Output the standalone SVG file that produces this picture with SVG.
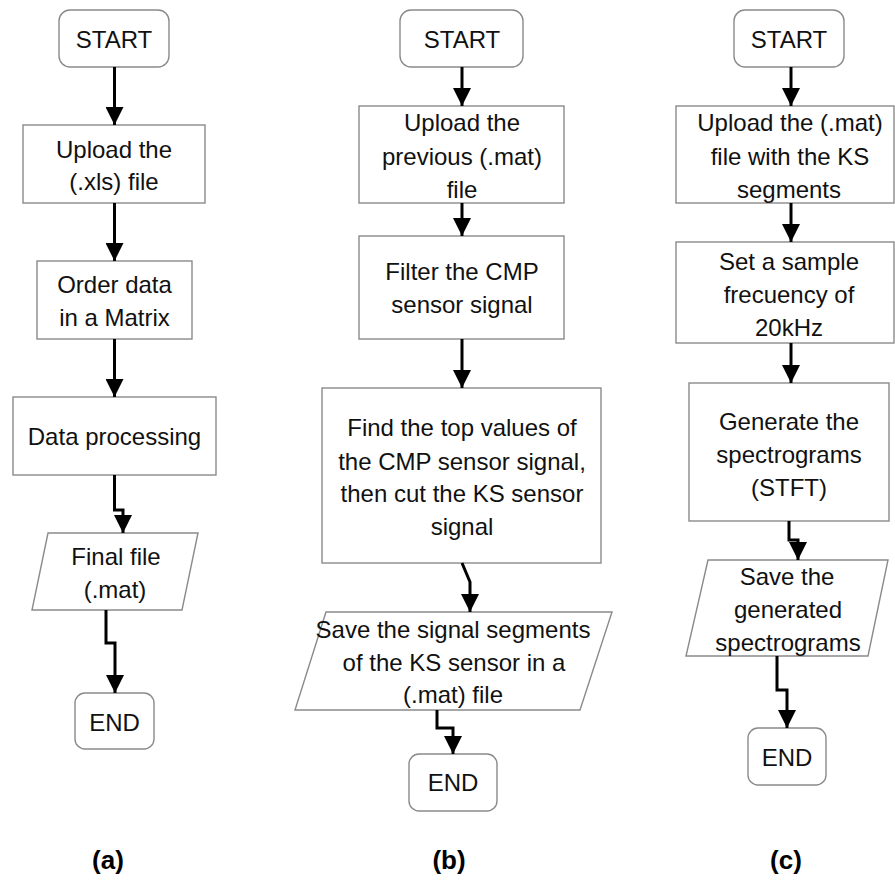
<svg xmlns="http://www.w3.org/2000/svg" width="895" height="881" viewBox="0 0 895 881">
<style>
.box{fill:#fff;stroke:#8a8a8a;stroke-width:1.4}
.t{font-family:"Liberation Sans",Arial,sans-serif;font-size:24px;fill:#111;text-anchor:middle}
.lab{font-family:"Liberation Sans",Arial,sans-serif;font-size:26px;font-weight:bold;fill:#000;text-anchor:middle}
.c{fill:none;stroke:#000;stroke-width:3;marker-end:url(#ah)}
</style>
<defs>
<marker id="ah" markerUnits="userSpaceOnUse" markerWidth="18" markerHeight="18" refX="18" refY="9" orient="auto">
<path d="M0,0 L18,9 L0,18 z" fill="#000"/>
</marker>
</defs>
<rect width="895" height="881" fill="#fff"/>

<g id="a-start"><rect class="box" x="59" y="10" width="110" height="57" rx="11"/><text class="t" x="114" y="48">START</text></g>
<g id="a-upload"><rect class="box" x="23" y="125" width="182" height="78"/><text class="t" x="114" y="158">Upload the</text><text class="t" x="114" y="190">(.xls) file</text></g>
<g id="a-order"><rect class="box" x="37" y="261" width="155" height="78"/><text class="t" x="114.5" y="293">Order data</text><text class="t" x="114.5" y="326">in a Matrix</text></g>
<g id="a-proc"><rect class="box" x="13" y="397" width="203" height="78"/><text class="t" x="114.5" y="445">Data processing</text></g>
<g id="a-final"><polygon class="box" points="48,533 198,533 182,610 32,610"/><text class="t" x="116" y="565">Final file</text><text class="t" x="115" y="598">(.mat)</text></g>
<g id="a-end"><rect class="box" x="75" y="693" width="79" height="56" rx="10"/><text class="t" x="114.5" y="731">END</text></g>

<g id="b-start"><rect class="box" x="400" y="10" width="123" height="57" rx="11"/><text class="t" x="462" y="48">START</text></g>
<g id="b-upload"><rect class="box" x="359" y="106" width="205" height="97"/><text class="t" x="462" y="131">Upload the</text><text class="t" x="462" y="165">previous (.mat)</text><text class="t" x="462" y="198">file</text></g>
<g id="b-filter"><rect class="box" x="359" y="236" width="205" height="103"/><text class="t" x="462" y="280">Filter the CMP</text><text class="t" x="462" y="313">sensor signal</text></g>
<g id="b-find"><rect class="box" x="322" y="388" width="279" height="175"/><text class="t" x="462" y="436">Find the top values of</text><text class="t" x="462" y="470">the CMP sensor signal,</text><text class="t" x="462" y="502">then cut the KS sensor</text><text class="t" x="462" y="535">signal</text></g>
<g id="b-save"><polygon class="box" points="326,612 612,612 580,710 295,710"/><text class="t" x="453" y="638">Save the signal segments</text><text class="t" x="454" y="671">of the KS sensor in a</text><text class="t" x="453" y="703">(.mat) file</text></g>
<g id="b-end"><rect class="box" x="409" y="754" width="88" height="57" rx="10"/><text class="t" x="453" y="791">END</text></g>

<g id="c-start"><rect class="box" x="734" y="10" width="110" height="57" rx="11"/><text class="t" x="789" y="48">START</text></g>
<g id="c-upload"><rect class="box" x="676" y="106" width="218" height="97"/><text class="t" x="790" y="131">Upload the (.mat)</text><text class="t" x="790" y="165">file with the KS</text><text class="t" x="789" y="198">segments</text></g>
<g id="c-set"><rect class="box" x="676" y="242" width="218" height="101"/><text class="t" x="789" y="270">Set a sample</text><text class="t" x="789" y="303">frecuency of</text><text class="t" x="789" y="336">20kHz</text></g>
<g id="c-gen"><rect class="box" x="689" y="383" width="200" height="138"/><text class="t" x="789" y="430">Generate the</text><text class="t" x="789" y="463">spectrograms</text><text class="t" x="789" y="496">(STFT)</text></g>
<g id="c-save"><polygon class="box" points="708,560 888,560 868,656 686,656"/><text class="t" x="787" y="585">Save the</text><text class="t" x="788" y="618">generated</text><text class="t" x="788" y="651">spectrograms</text></g>
<g id="c-end"><rect class="box" x="748" y="728" width="78" height="57" rx="10"/><text class="t" x="787" y="766">END</text></g>

<g id="connectors">
<path class="c" d="M114.5,67 V125"/>
<path class="c" d="M114.5,203 V261"/>
<path class="c" d="M114.5,339 V397"/>
<path class="c" d="M114.5,475 V510 H123 V533"/>
<path class="c" d="M106,610 V643 H115 V693"/>
<path class="c" d="M462,67 V106"/>
<path class="c" d="M462,203 V236"/>
<path class="c" d="M462,339 V388"/>
<path class="c" d="M462,563 L470,582 V612"/>
<path class="c" d="M437,710 V728 H453 V754"/>
<path class="c" d="M791,67 V106"/>
<path class="c" d="M791,203 V242"/>
<path class="c" d="M791,343 V383"/>
<path class="c" d="M789,521 V540 H798 V560"/>
<path class="c" d="M777,656 V690 H787 V728"/>
</g>

<text class="lab" x="108" y="869">(a)</text>
<text class="lab" x="449" y="869">(b)</text>
<text class="lab" x="786" y="869">(c)</text>
</svg>
